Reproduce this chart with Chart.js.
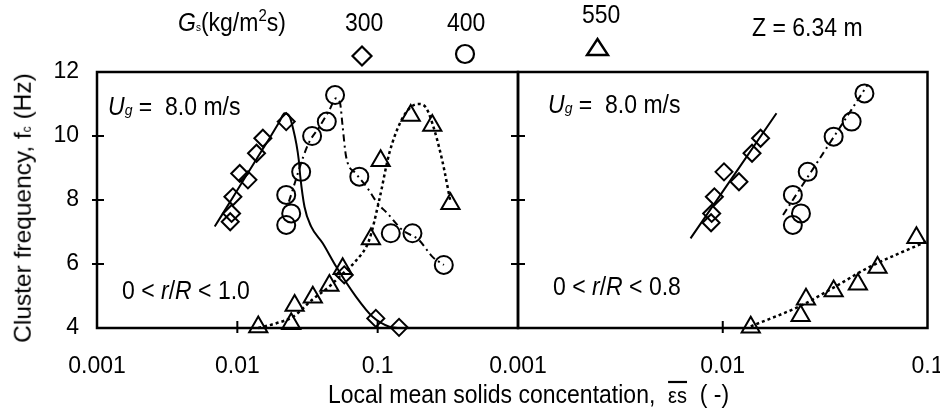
<!DOCTYPE html>
<html lang="en">
<head>
<meta charset="UTF-8">
<title>Cluster frequency vs local mean solids concentration</title>
<script src="https://cdn.jsdelivr.net/npm/chart.js@4.4.0/dist/chart.umd.min.js"></script>
<style>
  body { margin: 0; background: #fff; font-family: 'Liberation Sans', Arial, sans-serif; color: #000; }
  #wrap { position: relative; width: 940px; height: 414px; overflow: hidden; }
  canvas { position: absolute; left: 0; top: 0; }
  .t { position: absolute; white-space: nowrap; font-size: 23px; line-height: 1; transform-origin: 0 0; transform: scaleY(1.1); }
  .sub { font-size: 14px; }
</style>
</head>
<body>
<div id="wrap">
  <canvas id="left" width="940" height="414"></canvas>
  <canvas id="right" width="940" height="414"></canvas>

  <svg style="position:absolute;left:0;top:0" width="940" height="80">
    <polygon points="362,46.5 371.5,56 362,65.5 352.5,56" fill="none" stroke="#000" stroke-width="2.2"/>
    <circle cx="465" cy="54" r="9" fill="none" stroke="#000" stroke-width="2.2"/>
    <polygon points="597.5,39 608,55 587,55" fill="none" stroke="#000" stroke-width="2.4"/>
  </svg>

  <div class="t" style="left:178px;top:7px;"><i>G</i><span style="font-size:10px">s</span>(kg/m<sup style="font-size:15px;vertical-align:9px">2</sup>s)</div>
  <div class="t" style="left:345px;top:10px;">300</div>
  <div class="t" style="left:447px;top:10px;">400</div>
  <div class="t" style="left:582px;top:2px;">550</div>
  <div class="t" style="left:752px;top:15px;">Z = 6.34 m</div>

  <div class="t" style="left:108px;top:94px;"><i>U</i><i class="sub">g</i> =&nbsp; 8.0 m/s</div>
  <div class="t" style="left:122px;top:278px;">0 &lt; <i>r</i>/<i>R</i> &lt; 1.0</div>
  <div class="t" style="left:548px;top:92px;"><i>U</i><i class="sub">g</i> =&nbsp; 8.0 m/s</div>
  <div class="t" style="left:553px;top:274px;">0 &lt; <i>r</i>/<i>R</i> &lt; 0.8</div>

  <div class="t" style="left:328px;top:382px;">Local mean solids concentation,&nbsp; <span style="text-decoration:overline;font-size:20px">&epsilon;s</span>&nbsp; ( -)</div>
  <div style="position:absolute;left:23px;top:208px;white-space:nowrap;line-height:1;font-size:24.5px;transform:translate(-50%,-50%) rotate(-90deg);">Cluster frequency, f<span style="font-size:12px">c</span> (Hz)</div>
</div>

<script>
// y axis
const yTicks = [4, 6, 8, 10, 12];
const yInnerTicks = [6, 8, 10];

// left panel: 0 < r/R < 1.0
const leftTicks = [0.001, 0.01, 0.1];
const leftTickLabels = ['0.001', '0.01', '0.1'];
const leftInnerTicks = [0.01, 0.1];

const dia300LX = [0.0089, 0.0091, 0.0093, 0.0104, 0.0119, 0.0137, 0.0152, 0.0223, 0.0578, 0.097, 0.142];
const dia300LY = [7.32, 7.58, 8.10, 8.83, 8.63, 9.46, 9.93, 10.45, 5.66, 4.30, 4.02];
const cir400LX = [0.0223, 0.0242, 0.0223, 0.0285, 0.0341, 0.0434, 0.0497, 0.074, 0.124, 0.177, 0.296];
const cir400LY = [7.22, 7.58, 8.16, 8.88, 10.0, 10.45, 11.28, 8.73, 6.96, 6.96, 5.97];
const tri550LX = [0.0141, 0.0242, 0.0256, 0.0345, 0.0453, 0.0563, 0.0895, 0.105, 0.172, 0.245, 0.330];
const tri550LY = [4.03, 4.13, 4.70, 4.96, 5.33, 5.85, 6.78, 9.23, 10.64, 10.33, 7.88];

const fit300LX = [0.0069, 0.0095, 0.013, 0.017, 0.0200, 0.0217, 0.0236, 0.0251, 0.0263, 0.0274, 0.0281, 0.0301, 0.0336, 0.0406, 0.0506, 0.070, 0.092, 0.121, 0.142];
const fit300LY = [7.17, 8.15, 9.12, 9.94, 10.45, 10.71, 10.6, 10.19, 9.77, 9.25, 8.73, 7.79, 7.17, 6.65, 5.92, 4.98, 4.35, 4.04, 4.0];
const fit400LX = [0.0233, 0.0318, 0.0385, 0.0453, 0.0506, 0.054, 0.0563, 0.0596, 0.070, 0.0847, 0.0997, 0.1175, 0.150, 0.197, 0.245, 0.296];
const fit400LY = [7.95, 9.72, 10.29, 10.81, 11.18, 11.02, 10.29, 9.35, 8.83, 8.37, 7.9, 7.58, 7.06, 6.75, 6.23, 5.97];
const fit550LX = [0.0141, 0.019, 0.0249, 0.0345, 0.0453, 0.0563, 0.070, 0.087, 0.1026, 0.121, 0.146, 0.172, 0.195, 0.22, 0.245, 0.288, 0.33];
const fit550LY = [4.0, 4.15, 4.35, 4.9, 5.3, 5.7, 6.1, 6.75, 8.0, 9.46, 10.45, 10.9, 11.0, 10.9, 10.4, 9.25, 7.95];

// right panel: 0 < r/R < 0.8
const rightTicks = [0.001, 0.01, 0.1];
const rightTickLabels = ['0.001', '0.01', '0.1'];
const rightInnerTicks = [0.01];

const dia300RX = [0.00877, 0.00883, 0.0091, 0.01014, 0.0120, 0.0139, 0.0153];
const dia300RY = [7.29, 7.58, 8.10, 8.88, 8.57, 9.46, 9.93];
const cir400RX = [0.0220, 0.0241, 0.0220, 0.0260, 0.0348, 0.0426, 0.0492];
const cir400RY = [7.22, 7.58, 8.16, 8.88, 9.98, 10.45, 11.33];
const tri550RX = [0.0137, 0.024, 0.0255, 0.0348, 0.0457, 0.057, 0.0883];
const tri550RY = [4.02, 4.38, 4.90, 5.16, 5.37, 5.89, 6.82];

const fit300RX = [0.00696, 0.0183];
const fit300RY = [6.80, 10.71];
const fit400RX = [0.0197, 0.051];
const fit400RY = [7.53, 11.6];
const fit550RX = [0.0137, 0.0245, 0.0354, 0.0508, 0.0986];
const fit550RY = [4.05, 4.72, 5.29, 5.87, 6.70];

const pts = (xs, ys) => xs.map((x, i) => ({ x, y: ys[i] }));
const font = { family: "'Liberation Sans', Arial, sans-serif", size: 23 };

function marks(xs, ys, style, r) {
  return { data: pts(xs, ys), pointStyle: style, pointRadius: r, pointBorderWidth: 2,
           borderColor: '#000', backgroundColor: 'rgba(0,0,0,0)', showLine: false, clip: false };
}
function fit(xs, ys, dash, w) {
  return { data: pts(xs, ys), showLine: true, pointRadius: 0, borderColor: '#000',
           borderWidth: w || 2, borderDash: dash, cubicInterpolationMode: 'monotone', clip: false };
}

// box round the plot area plus small ticks that cross the frame
const frame = {
  id: 'frame',
  afterDraw(chart, args, o) {
    const { ctx, chartArea: a, scales } = chart;
    ctx.save();
    ctx.strokeStyle = '#000';
    ctx.lineWidth = 2.5;
    ctx.strokeRect(a.left, a.top, a.right - a.left, a.bottom - a.top);
    ctx.lineWidth = 2;
    ctx.beginPath();
    yInnerTicks.forEach(v => {
      const y = scales.y.getPixelForValue(v);
      ctx.moveTo(a.left - 5, y); ctx.lineTo(a.left + 7, y);
      if (o.rightTicks) { ctx.moveTo(a.right - 7, y); ctx.lineTo(a.right, y); }
    });
    o.xTicks.forEach(v => {
      const x = scales.x.getPixelForValue(v);
      ctx.moveTo(x, a.bottom - 7); ctx.lineTo(x, a.bottom + 5);
    });
    ctx.stroke();
    ctx.restore();
  }
};

function xScale(min, max, ticks, labels) {
  return {
    type: 'logarithmic', min, max,
    grid: { display: false, drawTicks: false }, border: { display: false },
    afterBuildTicks: s => { s.ticks = ticks.map(v => ({ value: v })); },
    afterFit: s => { s.height = 86; s.paddingLeft = 0; s.paddingRight = 0; },
    ticks: { font, color: '#000', padding: 25, maxRotation: 0, autoSkip: false,
             callback: (v, i) => labels[i] }
  };
}

function yScale(show) {
  return {
    min: 4, max: 12, display: show,
    grid: { display: false, drawTicks: false }, border: { display: false },
    afterBuildTicks: s => { s.ticks = yTicks.map(v => ({ value: v })); },
    afterFit: s => { s.width = show ? 97 : 0; s.paddingTop = 0; s.paddingBottom = 0; },
    ticks: { font, color: '#000', padding: 18 }
  };
}

const common = {
  responsive: false, animation: false,
  plugins: { legend: { display: false }, tooltip: { enabled: false } }
};

new Chart(document.getElementById('left'), {
  type: 'scatter',
  data: { datasets: [
    fit(fit300LX, fit300LY, []),
    fit(fit400LX, fit400LY, [7, 4, 2, 4]),
    fit(fit550LX, fit550LY, [3, 3], 2.5),
    marks(dia300LX, dia300LY, 'rectRot', 8.5),
    marks(cir400LX, cir400LY, 'circle', 9),
    marks(tri550LX, tri550LY, 'triangle', 10.5)
  ] },
  options: Object.assign({}, common, {
    layout: { padding: { left: 0, right: 422, top: 72, bottom: 0 } },
    scales: { x: xScale(0.001, 1, leftTicks, leftTickLabels), y: yScale(true) },
    plugins: Object.assign({}, common.plugins, { frame: { xTicks: leftInnerTicks, rightTicks: true } })
  }),
  plugins: [frame]
});

new Chart(document.getElementById('right'), {
  type: 'scatter',
  data: { datasets: [
    fit(fit300RX, fit300RY, []),
    fit(fit400RX, fit400RY, [7, 4, 2, 4]),
    fit(fit550RX, fit550RY, [3, 3], 2.5),
    marks(dia300RX, dia300RY, 'rectRot', 8.5),
    marks(cir400RX, cir400RY, 'circle', 9),
    marks(tri550RX, tri550RY, 'triangle', 10.5)
  ] },
  options: Object.assign({}, common, {
    layout: { padding: { left: 518, right: 3, top: 72, bottom: 0 } },
    scales: { x: xScale(0.001, 0.1, rightTicks, rightTickLabels), y: yScale(false) },
    plugins: Object.assign({}, common.plugins, { frame: { xTicks: rightInnerTicks, rightTicks: false } })
  }),
  plugins: [frame]
});
</script>
</body>
</html>
